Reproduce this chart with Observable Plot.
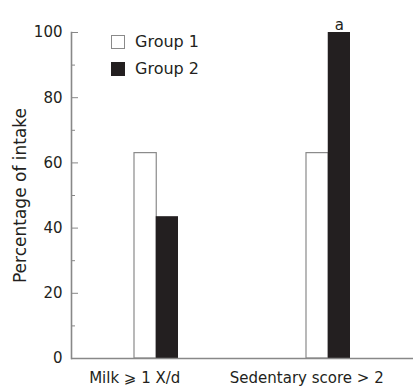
<!DOCTYPE html>
<html><head><meta charset="utf-8">
<script src="https://cdn.jsdelivr.net/npm/d3@7"></script>
<script src="https://cdn.jsdelivr.net/npm/@observablehq/plot@0.6"></script>
<style>
html,body{margin:0;padding:0;background:#fff;}
#chart{position:relative;width:414px;height:390px;font-family:"DejaVu Sans",sans-serif;}
.legend{position:absolute;left:111px;top:28px;font-size:16px;color:#231f20;}
.legend .item{display:flex;align-items:center;height:27px;}
.sw{width:14px;height:14px;box-sizing:border-box;margin-right:10px;}
</style></head><body><div id="chart"></div>
<script>
const categories = ["Milk \u2A7E 1 X/d", "Sedentary score > 2"];
const groups = ["Group 1", "Group 2"];
const group1Values = [63, 63];
const group2Values = [43.5, 100];
const yTicks = [0, 20, 40, 60, 80, 100];
const yMinorTicks = [10, 30, 50, 70, 90];
const yLabel = "Percentage of intake";
const annotations = [{category: categories[1], group: groups[1], text: "a"}];
const groupFill = ["#ffffff", "#231f20"];
const groupStroke = ["#8a8a8a", "#231f20"];

const data = categories.flatMap((c, i) => [
  {category: c, group: groups[0], value: group1Values[i]},
  {category: c, group: groups[1], value: group2Values[i]}
]);
const annotationText = d => {
  const a = annotations.find(a => a.category === d.category && a.group === d.group);
  return a ? a.text : "";
};

const axisColor = "#888888";
const halfBand = 21.75; // each group's bar takes half of the category band
const plot = Plot.plot({
  width: 414, height: 390,
  marginLeft: 71, marginRight: 1, marginTop: 32, marginBottom: 32,
  style: {fontFamily: "DejaVu Sans", fontSize: "15px", color: "#231f20", background: "white"},
  x: {domain: categories, paddingInner: 0.747, paddingOuter: 0.3675, axis: null},
  y: {domain: [0, 100], axis: null},
  marks: [
    Plot.barY(data.filter(d => d.group === groups[0]), {x: "category", y: "value", fill: groupFill[0], stroke: groupStroke[0], strokeWidth: 1.2, insetRight: halfBand}),
    Plot.barY(data.filter(d => d.group === groups[1]), {x: "category", y: "value", fill: groupFill[1], insetLeft: halfBand}),
    Plot.ruleY([0], {stroke: axisColor, strokeWidth: 1.6}),
    Plot.frame({anchor: "left", stroke: axisColor, strokeWidth: 1.6}),
    Plot.axisY({ticks: yTicks, tickSize: 7, dx: 7, tickFormat: () => "", stroke: axisColor, label: null}),
    Plot.axisY({ticks: yMinorTicks, tickSize: 4, dx: 4, tickFormat: () => "", stroke: axisColor, label: null}),
    Plot.axisY({ticks: yTicks, tickSize: 0, tickPadding: 9, label: null}),
    Plot.axisY({ticks: [], tickSize: 0, label: yLabel, labelAnchor: "center", labelOffset: 58, labelArrow: "none", fontSize: 17}),
    Plot.axisX({anchor: "bottom", tickSize: 0, tickPadding: 14, dx: -halfBand, label: null}),
    Plot.text(data.filter(d => annotationText(d) !== ""), {x: "category", y: "value", text: annotationText, dx: halfBand / 2, dy: -3, lineAnchor: "bottom"})
  ]
});
const chart = document.getElementById("chart");
chart.appendChild(plot);
const legend = document.createElement("div");
legend.className = "legend";
groups.forEach((g, i) => {
  const item = document.createElement("div");
  item.className = "item";
  const sw = document.createElement("span");
  sw.className = "sw";
  sw.style.background = groupFill[i];
  sw.style.border = "1px solid " + groupStroke[i];
  const t = document.createElement("span");
  t.textContent = g;
  item.appendChild(sw); item.appendChild(t);
  legend.appendChild(item);
});
chart.appendChild(legend);
</script></body></html>
